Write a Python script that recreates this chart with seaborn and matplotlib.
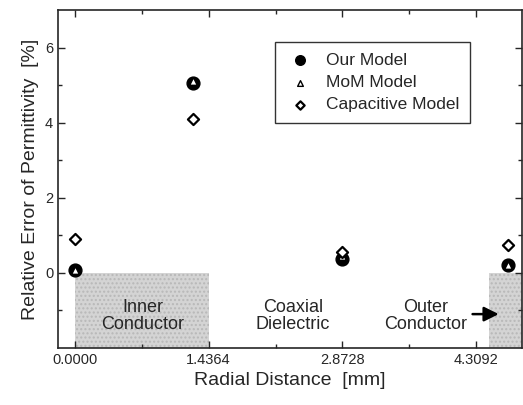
import matplotlib
matplotlib.use('Agg')
import matplotlib.pyplot as plt
import numpy as np
import pandas as pd
import seaborn as sns

# data
radial = [0.0, 1.265, 2.8728, 4.65]
our_model = [0.07, 5.05, 0.38, 0.2]
mom_model = [0.08, 5.1, 0.45, 0.2]
cap_model = [0.9, 4.1, 0.55, 0.73]
xticks = [0.0, 1.4364, 2.8728, 4.3092]

df = pd.concat(
    [
        pd.DataFrame({'r': radial, 'err': our_model, 'model': 'Our Model'}),
        pd.DataFrame({'r': radial, 'err': mom_model, 'model': 'MoM Model'}),
        pd.DataFrame({'r': radial, 'err': cap_model, 'model': 'Capacitive Model'}),
    ]
)

sns.set_style('ticks')
plt.rcParams['font.family'] = ['Liberation Sans', 'DejaVu Sans']
plt.rcParams.update(
    {
        'xtick.direction': 'in',
        'ytick.direction': 'in',
        'xtick.top': True,
        'ytick.right': True,
        'xtick.minor.visible': True,
        'ytick.minor.visible': True,
    }
)

fig = plt.figure(figsize=(5.23, 4.05), dpi=100)
ax = fig.add_axes([0.111, 0.141, 0.887, 0.834])

# shaded conductor regions
ax.fill_between([0.0, 1.4364], -2, 0, color='#d4d4d4', hatch='....', edgecolor='#b8b8b8', linewidth=0, zorder=0)
ax.fill_between([4.45, 4.8], -2, 0, color='#d4d4d4', hatch='....', edgecolor='#b8b8b8', linewidth=0, zorder=0)

styles = {
    'Our Model': dict(marker='o', s=85, color='black', edgecolor='black', linewidth=1.0),
    'MoM Model': dict(marker='^', s=30, color='white', edgecolor='black', linewidth=1.0),
    'Capacitive Model': dict(marker='D', s=32, color='white', edgecolor='black', linewidth=1.6),
}
for name, kw in styles.items():
    sns.scatterplot(data=df[df['model'] == name], x='r', y='err', label=name, ax=ax, zorder=3, **kw)

ax.text(0.73, -1.15, 'Inner\nConductor', ha='center', va='center', fontsize=13, linespacing=1.05)
ax.text(2.34, -1.15, 'Coaxial\nDielectric', ha='center', va='center', fontsize=13, linespacing=1.05)
ax.text(3.77, -1.15, 'Outer\nConductor', ha='center', va='center', fontsize=13, linespacing=1.05)
ax.annotate('', xy=(4.58, -1.1), xytext=(4.24, -1.1),
            arrowprops=dict(arrowstyle='-|>', color='black', lw=1.8, mutation_scale=22))

ax.set_xlim(-0.18, 4.8)
ax.set_ylim(-2, 7)
ax.set_xticks(xticks)
ax.set_xticklabels([f'{v:.4f}' for v in xticks])
ax.set_xticks([0.7182, 2.1546, 3.591], minor=True)
ax.set_yticks([0, 2, 4, 6])
ax.set_yticks([-1, 1, 3, 5], minor=True)
ax.tick_params(which='major', length=5, width=1, labelsize=10.5)
ax.tick_params(which='minor', length=3, width=1)
for sp in ax.spines.values():
    sp.set_linewidth(1.2)
    sp.set_visible(True)

ax.set_xlabel('Radial Distance  [mm]', fontsize=14)
ax.set_ylabel('Relative Error of Permittivity  [%]', fontsize=14)

leg = ax.legend(loc='upper left', bbox_to_anchor=(0.45, 0.93), fontsize=12.5,
                frameon=True, fancybox=False, edgecolor='black', markerscale=0.75,
                handletextpad=0.7, borderpad=0.6, labelspacing=0.4, handlelength=1.6)
leg.get_frame().set_linewidth(1.0)

fig.savefig('out.png', dpi=100)
